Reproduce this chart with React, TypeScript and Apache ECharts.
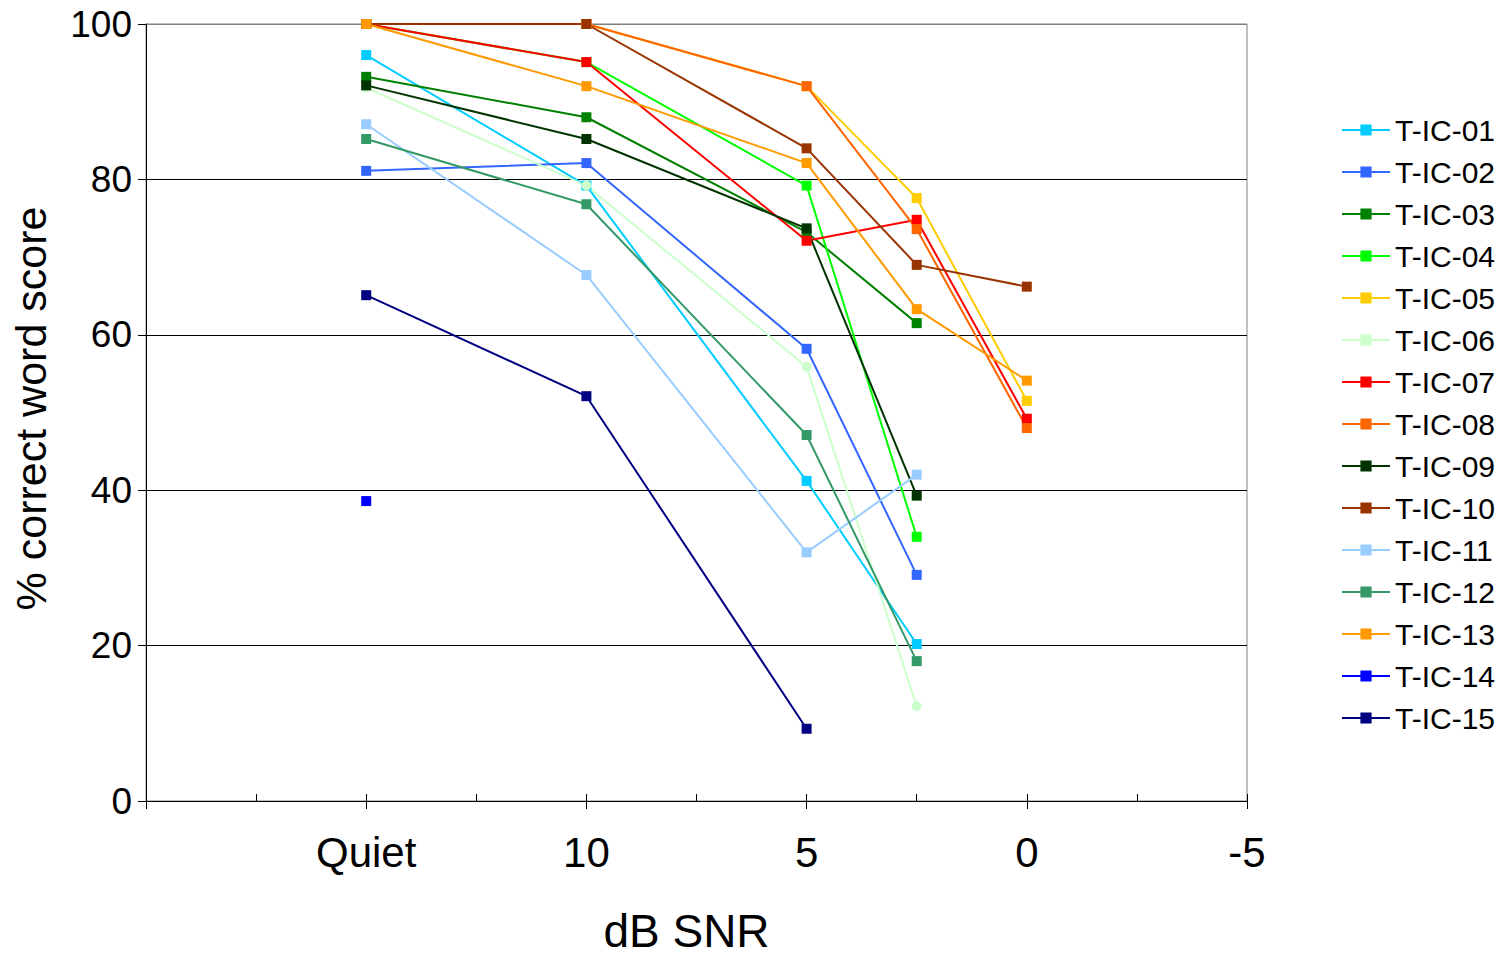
import React, { useEffect, useRef } from "react";
import * as echarts from "echarts";

const seriesNames = [
  "T-IC-01", "T-IC-02", "T-IC-03", "T-IC-04", "T-IC-05",
  "T-IC-06", "T-IC-07", "T-IC-08", "T-IC-09", "T-IC-10",
  "T-IC-11", "T-IC-12", "T-IC-13", "T-IC-14", "T-IC-15",
];
const seriesColors = [
  "#00CCFF", "#3366FF", "#008000", "#00FF00", "#FFCC00",
  "#CCFFCC", "#FF0000", "#FF6600", "#003300", "#993300",
  "#99CCFF", "#339966", "#FF9900", "#0000FF", "#000080",
];
// conditions: Quiet, 10, 5, 2.5, 0 dB SNR, placed on the x axis positions below
const conditionPositions = [1, 2, 3, 3.5, 4];
const xTickLabels: Record<string, string> = { "1": "Quiet", "2": "10", "3": "5", "4": "0", "5": "-5" };

const tic01 = [96.0, 79.2, 41.2, 20.2, null];
const tic02 = [81.1, 82.1, 58.2, 29.1, null];
const tic03 = [93.2, 88.0, 73.2, 61.5, null];
const tic04 = [100, 95.1, 79.2, 34.0, null];
const tic05 = [100, 100, 92.0, 77.6, 51.5];
const tic06 = [91.8, 79.2, 55.9, 12.2, null];
const tic07 = [100, 95.1, 72.1, 74.8, 49.2];
const tic08 = [100, 100, 92.0, 73.6, 48.0];
const tic09 = [92.1, 85.2, 73.7, 39.3, null];
const tic10 = [100, 100, 84.0, 69.0, 66.2];
const tic11 = [87.1, 67.7, 32.0, 42.0, null];
const tic12 = [85.2, 76.8, 47.1, 18.0, null];
const tic13 = [100, 92.0, 82.1, 63.3, 54.1];
const tic14 = [38.6, null, null, null, null];
const tic15 = [65.1, 52.1, 9.3, null, null];

const allValues = [tic01, tic02, tic03, tic04, tic05, tic06, tic07, tic08, tic09, tic10, tic11, tic12, tic13, tic14, tic15];

const FONT = "'Liberation Sans', Arial, sans-serif";

export default function App() {
  const ref = useRef<HTMLDivElement>(null);
  useEffect(() => {
    if (!ref.current) return;
    const chart = echarts.init(ref.current, undefined, { renderer: "svg" });
    const series = allValues.map((vals, i) => {
      const data: any[] = [];
      vals.forEach((v, j) => {
        if (v === null) return;
        if (i === 5) data.push({ value: [conditionPositions[j], v], symbol: "circle" });
        else data.push([conditionPositions[j], v]);
      });
      return {
        name: seriesNames[i],
        type: "line",
        data,
        symbol: "rect",
        symbolSize: 10,
        showAllSymbol: true,
        color: seriesColors[i],
        lineStyle: { width: 2, color: seriesColors[i] },
        itemStyle: { color: seriesColors[i], borderWidth: 0 },
        emphasis: { disabled: true },
      };
    });
    chart.setOption({
      animation: false,
      textStyle: { fontFamily: FONT },
      grid: {
        left: 146, right: 259, top: 24, bottom: 156,
        containLabel: false,
        outerBoundsMode: "none",
        show: true, borderColor: "#808080", borderWidth: 1,
      },
      legend: {
        orient: "vertical",
        left: 1336,
        top: 110,
        itemWidth: 48,
        itemHeight: 14,
        itemGap: 12,
        textStyle: { fontSize: 30, color: "#000", fontFamily: FONT },
        data: seriesNames,
      },
      xAxis: [
        {
          type: "value",
          min: 0,
          max: 5,
          interval: 1,
          name: "dB SNR",
          nameLocation: "middle",
          nameGap: 110,
          nameTextStyle: {
            fontSize: 46, lineHeight: 40, color: "#000", fontFamily: FONT, padding: [0, 20, 0, 0],
          },
          axisLine: { show: true, onZero: false, lineStyle: { color: "#000", width: 1 } },
          axisTick: { show: true, inside: false, length: 8, lineStyle: { color: "#000" } },
          axisLabel: {
            fontSize: 42,
            color: "#000",
            margin: 30,
            showMaxLabel: true,
            showMinLabel: true,
            formatter: (v: number) => xTickLabels[String(v)] ?? "",
          },
          splitLine: { show: false },
        },
        {
          type: "value",
          position: "bottom",
          min: 0,
          max: 5,
          interval: 0.5,
          axisLine: { show: false, onZero: false },
          axisTick: { show: true, inside: true, length: 7, lineStyle: { color: "#000" } },
          axisLabel: { show: false },
          splitLine: { show: false },
        },
      ],
      yAxis: {
        type: "value",
        min: 0,
        max: 100,
        interval: 20,
        name: "% correct word score",
        nameLocation: "middle",
        nameGap: 94,
        nameTextStyle: { fontSize: 43, color: "#000", fontFamily: FONT, padding: [0, 0, 0, 8] },
        axisLine: { show: true, lineStyle: { color: "#000", width: 1 } },
        axisTick: { show: true, inside: false, length: 8, lineStyle: { color: "#000" } },
        axisLabel: { fontSize: 37, color: "#000", margin: 14 },
        splitLine: {
          show: true,
          lineStyle: { color: ["#000", "#000", "#000", "#000", "#000", "#808080"], width: 1 },
        },
      },
      series,
    });
    return () => chart.dispose();
  }, []);
  return (
    <div
      ref={ref}
      style={{ position: "absolute", left: 0, top: 0, width: 1506, height: 957, background: "#fff" }}
    />
  );
}
